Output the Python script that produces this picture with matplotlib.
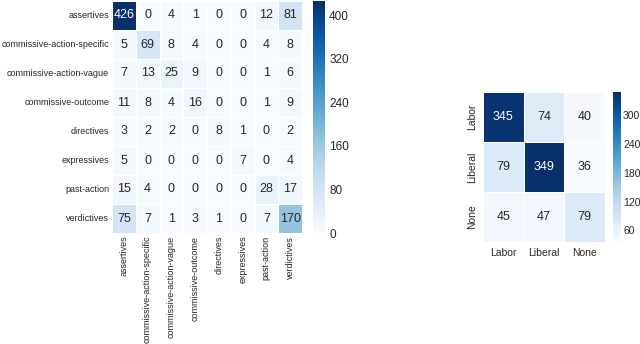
import matplotlib
matplotlib.use("Agg")
import matplotlib.pyplot as plt
import seaborn as sns
import numpy as np

speech_labels = ["assertives", "commissive-action-specific", "commissive-action-vague",
                 "commissive-outcome", "directives", "expressives", "past-action", "verdictives"]
speech_cm = np.array([
    [426, 0, 4, 1, 0, 0, 12, 81],
    [5, 69, 8, 4, 0, 0, 4, 8],
    [7, 13, 25, 9, 0, 0, 1, 6],
    [11, 8, 4, 16, 0, 0, 1, 9],
    [3, 2, 2, 0, 8, 1, 0, 2],
    [5, 0, 0, 0, 0, 7, 0, 4],
    [15, 4, 0, 0, 0, 0, 28, 17],
    [75, 7, 1, 3, 1, 0, 7, 170],
])
speech_ticks = [0, 80, 160, 240, 320, 400]

party_labels = ["Labor", "Liberal", "None"]
party_cm = np.array([
    [345, 74, 40],
    [79, 349, 36],
    [45, 47, 79],
])
party_ticks = [60, 120, 180, 240, 300]

plt.rcParams["font.family"] = ["Liberation Sans", "DejaVu Sans"]
W, H = 640, 344
fig = plt.figure(figsize=(W / 100, H / 100), dpi=100)
txt = "#262626"


def box(x0, y0, x1, y1):
    return [x0 / W, 1 - y1 / H, (x1 - x0) / W, (y1 - y0) / H]


ax1 = fig.add_axes(box(112, 1, 302, 233))
cax1 = fig.add_axes(box(313, 1, 325, 233))
sns.heatmap(speech_cm, ax=ax1, cbar_ax=cax1, cmap="Blues", annot=True, fmt="d",
            linewidths=0.5, linecolor="white",
            xticklabels=speech_labels, yticklabels=speech_labels,
            annot_kws={"size": 9},
            cbar_kws={"ticks": speech_ticks})
ax1.tick_params(length=0, labelsize=6.5, pad=2, labelcolor=txt)
ax1.set_xticklabels(speech_labels, rotation=90)
ax1.set_yticklabels(speech_labels, rotation=0)
cax1.tick_params(length=0, labelsize=8.5, pad=3, labelcolor=txt)
cax1.set_frame_on(False)

ax2 = fig.add_axes(box(483, 92, 605, 242))
cax2 = fig.add_axes(box(613, 92, 621, 242))
sns.heatmap(party_cm, ax=ax2, cbar_ax=cax2, cmap="Blues", annot=True, fmt="d",
            linewidths=0.5, linecolor="white",
            xticklabels=party_labels, yticklabels=party_labels,
            annot_kws={"size": 9},
            cbar_kws={"ticks": party_ticks})
ax2.tick_params(length=0, labelsize=7.5, pad=4, labelcolor=txt)
ax2.set_yticklabels(party_labels, rotation=90, va="center")
cax2.tick_params(length=0, labelsize=7.5, pad=1.5, labelcolor=txt)
cax2.set_frame_on(False)

fig.savefig("out.png", dpi=100)
